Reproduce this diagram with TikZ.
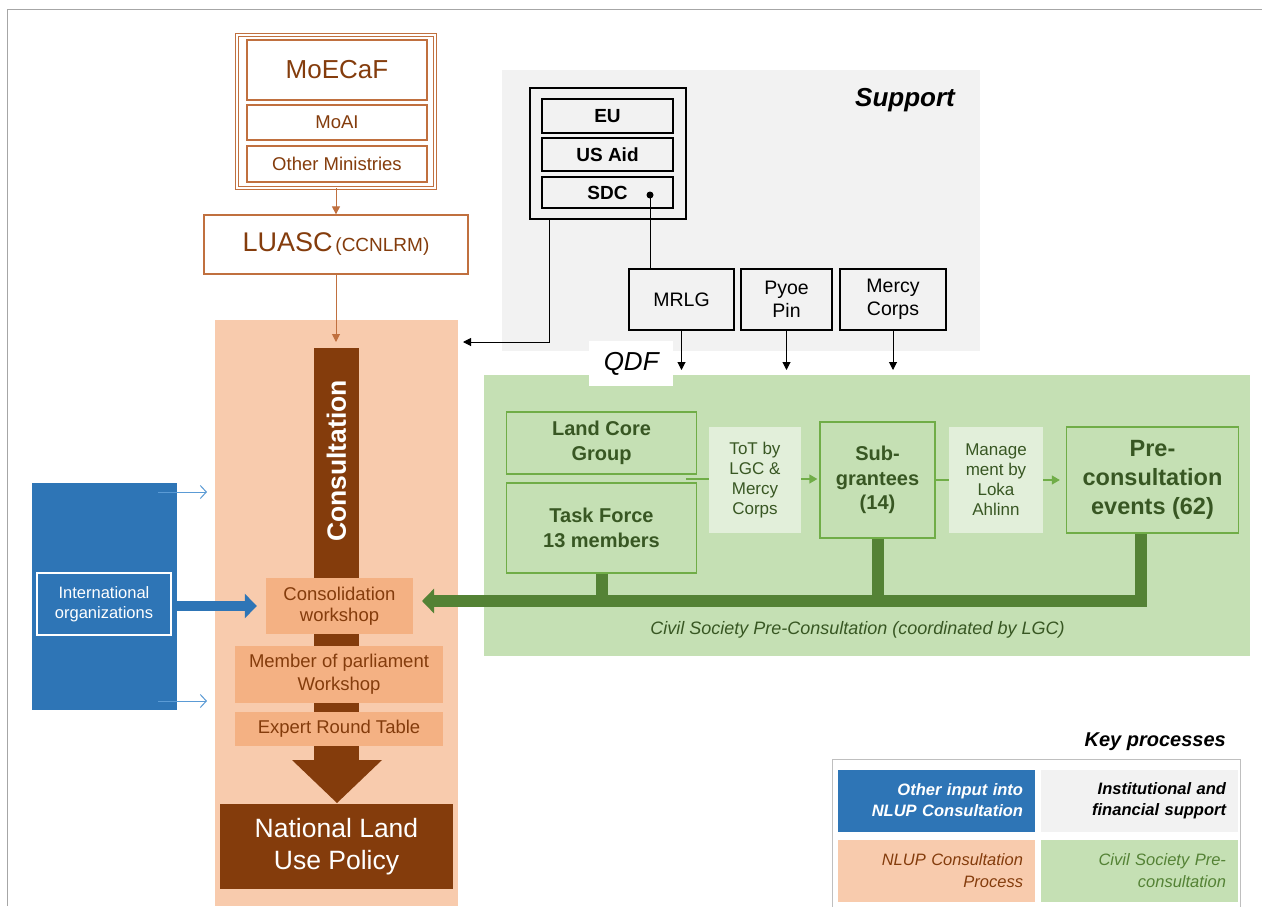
\documentclass[tikz,border=0pt]{standalone}
\usepackage{fontspec}
\setmainfont{Liberation Sans}
\usetikzlibrary{arrows.meta}
\definecolor{brTxt}{HTML}{843C0C}
\definecolor{brLine}{HTML}{C0703F}
\definecolor{peach}{HTML}{F8CBAD}
\definecolor{orng}{HTML}{F4B183}
\definecolor{dbrown}{HTML}{843C0C}
\definecolor{blu}{HTML}{2E75B6}
\definecolor{lblu}{HTML}{5B9BD5}
\definecolor{gry}{HTML}{F2F2F2}
\definecolor{grnbg}{HTML}{C5E0B4}
\definecolor{grnln}{HTML}{70AD47}
\definecolor{grntx}{HTML}{385723}
\definecolor{grnbar}{HTML}{548235}
\definecolor{grnlt}{HTML}{E2EFDA}
\newcommand\fsz[2]{\fontsize{#1pt}{#2pt}\selectfont}
\begin{document}
\begin{tikzpicture}[x=1pt,y=-1pt,
  every node/.style={inner sep=0pt, align=center},
  minbox/.style={draw=brLine, line width=1.3pt, text=brTxt},
  donbox/.style={draw=black, line width=1.2pt, font=\fsz{19}{22}\bfseries},
  orgbox/.style={draw=black, line width=1.2pt, font=\fsz{19.5}{23}},
  stepbox/.style={fill=orng, text=brTxt, font=\fsz{18.5}{22}},
  gbox/.style={draw=grnln, line width=1.3pt, fill=grnbg, text=grntx, font=\fsz{20}{25}\bfseries},
  glabel/.style={fill=grnlt, text=grntx, font=\fsz{17}{20}},
  legcell/.style={minimum width=197pt, minimum height=62pt, text width=173pt, align=right},
  tri/.style={-{Triangle[length=8pt,width=8pt]}},
  thinblue/.style={lblu, line width=1pt, -{Straight Barb[length=6pt,width=13pt]}},
]
\useasboundingbox (0,0) rectangle (1262,906);
\fill[white] (0,0) rectangle (1262,906);
\draw[gray!70, line width=1pt] (7,906) -- (7,9) -- (1262,9);

% backgrounds
\node[fill=gry, minimum width=478pt, minimum height=281pt, anchor=north west] (supbg) at (502,70) {};
\node[fill=peach, minimum width=243pt, minimum height=586pt, anchor=north west] (peachbg) at (215,320) {};
\node[fill=grnbg, minimum width=766pt, minimum height=281pt, anchor=north west] (grnbg) at (484,375) {};
\node[fill=blu, minimum width=145pt, minimum height=227pt, anchor=north west] (blue) at (32,483) {};

% ministries
\node[draw=brLine, line width=0.8pt, double=white, double distance=1.6pt, minimum width=198pt, minimum height=153pt] (mins) at (336,111.5) {};
\node[minbox, minimum width=180pt, minimum height=60pt, font=\fsz{26}{30}] (moecaf) at (337,70) {MoECaF};
\node[minbox, minimum width=180pt, minimum height=35pt, font=\fsz{18.5}{22}] (moai) at (337,122.5) {MoAI};
\node[minbox, minimum width=180pt, minimum height=36pt, font=\fsz{18.5}{22}] (othmin) at (337,164) {Other Ministries};
\node[minbox, fill=white, minimum width=264pt, minimum height=59pt] (luasc) at (336,244.5) {{\fsz{27}{30}LUASC} {\fsz{19}{30}(CCNLRM)}};
\draw[brLine, line width=1pt, tri] (mins.south) -- (luasc.north);

% consultation column
\node[fill=dbrown, minimum width=45pt, minimum height=412pt, anchor=north] (cbar) at (336.5,348) {};
\fill[dbrown] (292,760) -- (382,760) -- (337,803) -- cycle;
\node[rotate=90, text=white, font=\fsz{26.5}{30}\bfseries] (constxt) at (336.5,461) {Consultation};
\coordinate (cbarIn) at (336,342);
\draw[brLine, line width=1pt, tri] (luasc.south) -- (cbarIn);
\node[stepbox, minimum width=147pt, minimum height=56pt, font=\fsz{18.5}{21.5}] (consol) at (339.5,606) {Consolidation\\workshop};
\node[stepbox, minimum width=208pt, minimum height=57pt, font=\fsz{18.5}{23}] (mp) at (339,674.5) {Member of parliament\\Workshop};
\node[stepbox, minimum width=208pt, minimum height=34pt] (expert) at (339,729) {Expert Round Table};
\node[fill=dbrown, text=white, minimum width=233pt, minimum height=85pt, font=\fsz{26.5}{31.5}] (nlup) at (336.5,846.5) {National Land\\Use Policy};

% international input
\node[draw=white, line width=1.5pt, text=white, minimum width=134pt, minimum height=62pt, font=\fsz{16.5}{20}] (intl) at (104,604) {International\\organizations};
\draw[blu, line width=10pt, -{Triangle[length=12pt,width=24pt]}] (blue.east |- consol.west) -- ([xshift=-9pt]consol.west);
\coordinate (ba1s) at (158,492); \coordinate (ba1e) at (207,492);
\coordinate (ba2s) at (158,701); \coordinate (ba2e) at (207,701);
\draw[thinblue] (ba1s) -- (ba1e);
\draw[thinblue] (ba2s) -- (ba2e);

% support
\node[anchor=east, font=\fsz{26}{30}\bfseries\itshape] (suptxt) at (955,100) {Support};
\node[draw=black, line width=1.2pt, minimum width=156pt, minimum height=131pt] (donors) at (608,153.5) {};
\node[donbox, minimum width=131pt, minimum height=34pt] (eu) at (607.5,116) {EU};
\node[donbox, minimum width=131pt, minimum height=33pt] (usaid) at (607.5,154.5) {US Aid};
\node[donbox, minimum width=131pt, minimum height=31pt] (sdc) at (607.5,192.5) {SDC};
\node[orgbox, minimum width=105pt, minimum height=61pt] (mrlg) at (681.5,299.5) {MRLG};
\node[orgbox, minimum width=91pt, minimum height=61pt] (pyoe) at (786.5,299.5) {Pyoe\\Pin};
\node[orgbox, minimum width=106pt, minimum height=61pt] (mercy) at (893,299.5) {Mercy\\Corps};
\coordinate (sdcdot) at (650,195);
\fill (sdcdot) circle (3.5pt);
\draw[line width=1pt] (sdcdot) -- (sdcdot |- mrlg.north);
\coordinate (supIn) at (463,342);
\draw[line width=1pt, tri] ([xshift=20pt]donors.south west) |- (supIn);
\draw[line width=1pt, tri, shorten >=5pt] (mrlg.south) -- (mrlg.south |- grnbg.north);
\draw[line width=1pt, tri, shorten >=5pt] (pyoe.south) -- (pyoe.south |- grnbg.north);
\draw[line width=1pt, tri, shorten >=5pt] (mercy.south) -- (mercy.south |- grnbg.north);
\node[fill=white, minimum width=84pt, minimum height=45pt, anchor=north west, font=\fsz{26}{30}\itshape] (qdf) at (589,341) {QDF};

% civil society
\node[gbox, minimum width=190pt, minimum height=62pt] (lcg) at (601.5,443) {Land Core\\Group};
\node[gbox, minimum width=190pt, minimum height=90pt] (tf) at (601.5,528) {Task Force\\13 members};
\node[gbox, minimum width=115pt, minimum height=116pt, font=\fsz{20}{24.5}\bfseries] (sub) at (877.5,480) {Sub-\\grantees\\(14)};
\node[gbox, minimum width=172pt, minimum height=106pt, font=\fsz{23.5}{29}\bfseries] (pre) at (1152.5,480) {Pre-\\consultation\\events (62)};
\coordinate (lcgtf) at (686,479);
\draw[grnln, line width=1.3pt, -{Triangle[length=8pt,width=9pt]}, shorten >=2pt] (lcgtf) -- (sub.west |- lcgtf);
\draw[grnln, line width=1.3pt, -{Triangle[length=8pt,width=9pt]}, shorten >=6pt] (sub.east) -- (pre.west);
\node[glabel, minimum width=92pt, minimum height=106pt] (tot) at (755,480) {ToT by\\LGC \&\\Mercy\\Corps};
\node[glabel, minimum width=94pt, minimum height=106pt] (mgmt) at (996,480) {Manage\\ment by\\Loka\\Ahlinn};
\coordinate (cwTip) at (422,601);
\draw[grnbar, line width=12pt] (tf.south) -- (tf.south |- cwTip);
\draw[grnbar, line width=12pt] (sub.south) -- (sub.south |- cwTip);
\draw[grnbar, line width=12pt, -{Triangle[length=12pt,width=24pt]}] ([xshift=-11.5pt]pre.south) |- (cwTip);
\node[text=grntx, font=\fsz{18}{22}\itshape] (cap) at (857.5,630) {Civil Society Pre-Consultation (coordinated by LGC)};

% legend
\node[anchor=east, font=\fsz{20}{24}\bfseries\itshape] (keyt) at (1226,742) {Key processes};
\node[draw=gray!50, line width=1.2pt, minimum width=408pt, minimum height=150pt, anchor=north west] (legbox) at (832,759) {};
\node[legcell, fill=blu, text=white, font=\fsz{16.5}{21}\bfseries\itshape] (lg1) at (936.5,800.5) {Other input into\\NLUP Consultation};
\node[legcell, fill=gry, text=black, font=\fsz{16.5}{21}\bfseries\itshape] (lg2) at (1139.5,800.5) {Institutional and\\financial support};
\node[legcell, fill=peach, text=brTxt, font=\fsz{16.5}{22}\itshape] (lg3) at (936.5,870.5) {NLUP Consultation\\Process};
\node[legcell, fill=grnbg, text=grnbar, font=\fsz{16.5}{22}\itshape] (lg4) at (1139.5,870.5) {Civil Society Pre-\\consultation};
\end{tikzpicture}
\end{document}
